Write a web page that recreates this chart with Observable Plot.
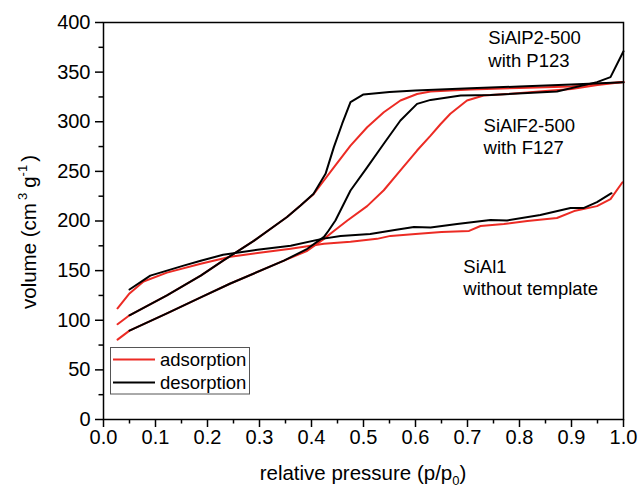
<!DOCTYPE html>
<html><head><meta charset="utf-8">
<script src="https://cdn.jsdelivr.net/npm/d3@7"></script>
<script src="https://cdn.jsdelivr.net/npm/@observablehq/plot@0.6"></script>
<style>
html,body{margin:0;padding:0;background:#fff;}
</style>
</head><body><div id="chart"></div>
<script>
// ---- data ----
const sial1AdsP = [0.027,0.05,0.077,0.122,0.187,0.244,0.30,0.36,0.424,0.475,0.526,0.552,0.60,0.65,0.703,0.725,0.77,0.815,0.872,0.905,0.949,0.975,0.998];
const sial1AdsV = [112,127,139,148,157,164,168,172,177,179,182,185,187,189,190,195,197,200,203,210,215,222,239];
const sial1DesP = [0.05,0.09,0.154,0.187,0.23,0.296,0.36,0.42,0.456,0.513,0.56,0.597,0.629,0.68,0.744,0.776,0.84,0.898,0.923,0.949,0.977];
const sial1DesV = [131,145,155,160,166,171,175,182,185,187,191,194,193.5,197,201,200.5,206,213,213,219,228];

const p123AdsP = [0.027,0.05,0.122,0.187,0.23,0.289,0.353,0.404,0.417,0.443,0.475,0.507,0.539,0.571,0.603,0.629,0.706,0.8,0.9,0.95,1.0];
const p123AdsV = [96,105,125,145,160,180,204,227,236,254,276,294.5,309.6,321.4,328,330.5,332.5,334,335.5,338,340];
const p123DesP = [0.05,0.122,0.187,0.23,0.289,0.353,0.379,0.404,0.427,0.443,0.459,0.475,0.5,0.55,0.6,0.706,0.8,0.9,1.0];
const p123DesV = [105,125,145,160,180,204,215.6,227.4,247.5,274.4,298,319.7,327.5,330,331.5,333.8,335.5,337.5,339.7];

const f127AdsP = [0.027,0.05,0.122,0.187,0.244,0.347,0.392,0.424,0.443,0.469,0.507,0.539,0.571,0.603,0.629,0.648,0.667,0.699,0.731,0.776,0.85,0.9,0.95,1.0];
const f127AdsV = [80.5,89.5,107,123,137,160,170,182,190,200.5,215,231,251,271,286,297.5,308,321.4,326.4,328,331,333,337,340];
const f127DesP = [0.05,0.122,0.187,0.244,0.347,0.392,0.424,0.433,0.446,0.475,0.507,0.539,0.571,0.603,0.629,0.687,0.744,0.872,0.949,0.975,1.0];
const f127DesV = [89.5,107,123,137,160,172,184,190.4,200.5,230.7,254,277.8,301.3,318,322,326.5,327,330.5,339.9,345,371];

const branches = ["adsorption","desorption"];
const xTicks = [0,0.1,0.2,0.3,0.4,0.5,0.6,0.7,0.8,0.9,1.0];
const xMinor = [0.05,0.15,0.25,0.35,0.45,0.55,0.65,0.75,0.85,0.95];
const yTicks = [0,50,100,150,200,250,300,350,400];
const yMinor = [25,75,125,175,225,275,325,375];

const labels = ["SiAlP2-500","with P123","SiAlF2-500","with F127","SiAl1","without template"];
const labelP = [0.74,0.74,0.731,0.731,0.692,0.692];
const labelV = [384,361,296,273,153.5,131];

// ---- build tables ----
const series = [
  {name:"SiAl1", type:"adsorption", p:sial1AdsP, v:sial1AdsV},
  {name:"P123", type:"adsorption", p:p123AdsP, v:p123AdsV},
  {name:"F127", type:"adsorption", p:f127AdsP, v:f127AdsV},
  {name:"SiAl1", type:"desorption", p:sial1DesP, v:sial1DesV},
  {name:"P123", type:"desorption", p:p123DesP, v:p123DesV},
  {name:"F127", type:"desorption", p:f127DesP, v:f127DesV}
];
const rows = series.flatMap(s => s.p.map((p,i) => ({key:s.name+"-"+s.type, type:s.type, p, v:s.v[i]})));
const annotations = labels.map((t,i) => ({text:t, p:labelP[i], v:labelV[i]}));

const RED = "#ec2b24";
const FONT = "'Liberation Sans', Arial, Helvetica, sans-serif";

const plot = Plot.plot({
  width: 638, height: 488,
  marginLeft: 103, marginRight: 15, marginTop: 22, marginBottom: 69,
  style: {fontFamily: FONT, fontSize: "20px", background: "#fff", color: "#000", overflow: "visible"},
  x: {domain: [0, 1]},
  y: {domain: [0, 400]},
  color: {domain: branches, range: [RED, "#000"]},
  marks: [
    Plot.axisX({ticks: xTicks, tickSize: 8, tickPadding: 2, tickFormat: d3.format(".1f"), label: null, strokeWidth: 1.5, fontSize: 20}),
    Plot.axisX({ticks: xMinor, tickSize: 4.5, tickFormat: () => "", label: null, strokeWidth: 1.5}),
    Plot.axisY({ticks: yTicks, tickSize: 8, tickPadding: 5, label: null, strokeWidth: 1.5, fontSize: 20}),
    Plot.axisY({ticks: yMinor, tickSize: 4.5, tickFormat: () => "", label: null, strokeWidth: 1.5}),
    Plot.line(rows.filter(d => d.type === "adsorption"), {x: "p", y: "v", z: "key", stroke: "type", strokeWidth: 2}),
    Plot.line(rows.filter(d => d.type === "desorption"), {x: "p", y: "v", z: "key", stroke: "type", strokeWidth: 2}),
    Plot.frame({stroke: "#000", strokeWidth: 1.5}),
    Plot.text(annotations, {x: "p", y: "v", text: "text", textAnchor: "start", fontSize: 18.5, fill: "#000"})
  ]
});

const svg = d3.select(plot);
// axis titles
const xl = svg.append("text").attr("x", 363).attr("y", 480).attr("text-anchor", "middle")
  .attr("font-family", FONT).attr("font-size", 20.5).attr("fill", "#000");
xl.append("tspan").text("relative pressure (p/p");
xl.append("tspan").text("0").attr("font-size", 13).attr("dy", 5);
xl.append("tspan").text(")").attr("dy", -5);

const yl = svg.append("text").attr("transform", "translate(36,232) rotate(-90)").attr("text-anchor", "middle")
  .attr("font-family", FONT).attr("font-size", 20.5).attr("fill", "#000");
yl.append("tspan").text("volume (cm");
yl.append("tspan").text("3").attr("font-size", 13).attr("dx", 3).attr("dy", -9);
yl.append("tspan").text("g").attr("dx", 5).attr("dy", 9);
yl.append("tspan").text("-1").attr("font-size", 13).attr("dy", -9);
yl.append("tspan").text(")").attr("dx", 3).attr("dy", 9);

// legend
const lg = svg.append("g").attr("font-family", FONT).attr("font-size", 18.5).attr("text-anchor", "start");
lg.append("rect").attr("x", 110.5).attr("y", 347.5).attr("width", 139).attr("height", 46.5)
  .attr("fill", "#fff").attr("stroke", "#555").attr("stroke-width", 1);
branches.forEach((b, i) => {
  const yy = 359.5 + i * 23;
  lg.append("line").attr("x1", 113).attr("x2", 155).attr("y1", yy).attr("y2", yy)
    .attr("stroke", i === 0 ? RED : "#000").attr("stroke-width", 2);
  lg.append("text").attr("x", 160).attr("y", yy).attr("dy", "0.35em").attr("text-anchor", "start").attr("fill", "#000").text(b);
});

document.getElementById("chart").appendChild(plot);
</script>
</body></html>
